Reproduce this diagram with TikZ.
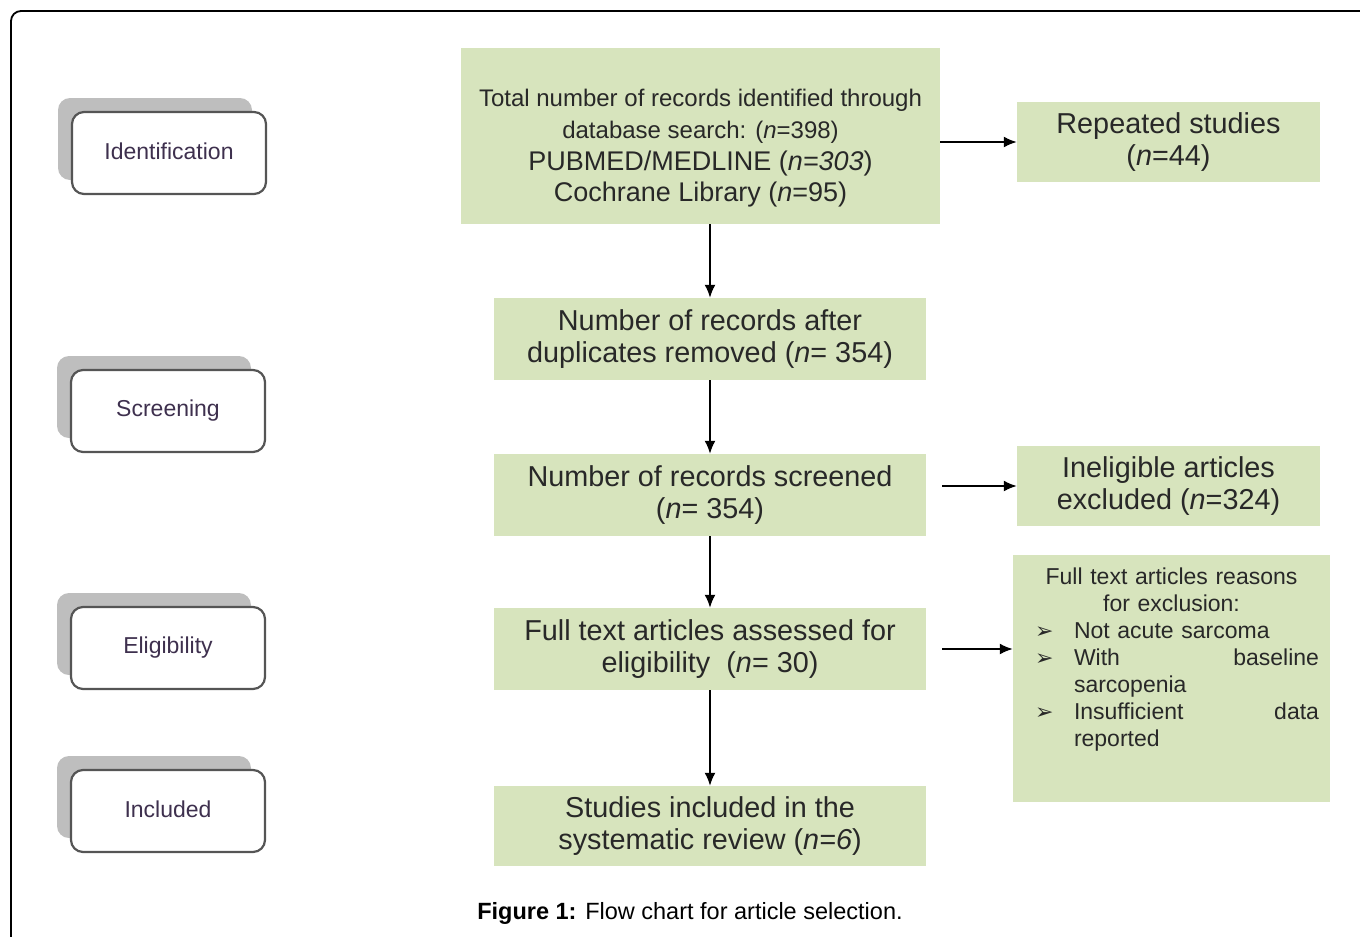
\documentclass[tikz,border=0pt]{standalone}
\usepackage{fontspec}
\setmainfont{Liberation Sans}
\newfontfamily\dingfont{DejaVu Sans}
\usetikzlibrary{arrows.meta,shadows}
\definecolor{boxgreen}{RGB}{215,228,189}
\definecolor{boxtext}{RGB}{40,40,40}
\definecolor{stagetext}{RGB}{62,48,78}
\definecolor{stageedge}{RGB}{85,85,85}
\definecolor{stageshade}{RGB}{190,190,190}
\newcommand{\arrowbullet}{\makebox[39pt][l]{\dingfont\fontsize{22}{27}\selectfont ➢}}
\tikzset{
  flowbox/.style={fill=boxgreen,text=boxtext,align=center,inner sep=0pt,
    minimum width=432pt,minimum height=82pt,font=\fontsize{28.8}{32}\selectfont},
  sidebox/.style={flowbox,minimum width=303pt,minimum height=80pt},
  stagebox/.style={draw=stageedge,line width=2.2pt,fill=white,rounded corners=12pt,
    minimum width=194pt,minimum height=82pt,text=stagetext,font=\fontsize{23}{27}\selectfont,
    copy shadow={shadow xshift=-14pt,shadow yshift=14pt,fill=stageshade,draw=none}},
  flowarrow/.style={line width=1.8pt,->,>={Latex[length=13pt,width=11pt]}}
}
\begin{document}
\begin{tikzpicture}[x=1pt,y=-1pt]
      \useasboundingbox (0,0) rectangle (1360,937);
      \draw[line width=1.8pt,rounded corners=10pt] (1370,11) -- (11,11) -- (11,950);
      \node[stagebox] (identification) at (169,153) {\raisebox{4pt}{Identification}};
      \node[stagebox] (screening) at (168,411) {\raisebox{4pt}{Screening}};
      \node[stagebox] (eligibility) at (168,648) {\raisebox{4pt}{Eligibility}};
      \node[stagebox] (included) at (168,811) {\raisebox{4pt}{Included}};
      \node[flowbox,minimum width=479pt,minimum height=176pt,font=\fontsize{24}{31.7}\selectfont] (ident) at (700.5,136)
        {\rule{0pt}{42pt}Total number of records identified through\\ database search: (\textit{n}=398)\\
        {\fontsize{27}{31.7}\selectfont PUBMED/MEDLINE (\textit{n=303})}\\
        {\fontsize{27}{31.7}\selectfont Cochrane Library (\textit{n}=95)}};
      \node[sidebox] (rep) at (1168.5,142) {Repeated studies\\ (\textit{n}=44)};
      \node[flowbox] (dup) at (710,339) {Number of records after\\ duplicates removed (\textit{n}= 354)};
      \node[flowbox] (screen) at (710,495) {Number of records screened\\ (\textit{n}= 354)};
      \node[sidebox] (inel) at (1168.5,486) {Ineligible articles\\ excluded (\textit{n}=324)};
      \node[flowbox] (elig) at (710,649) {Full text articles assessed for\\ eligibility~ (\textit{n}= 30)};
      \node[flowbox,minimum width=317pt,minimum height=247pt,text width=295pt,text depth=205pt,
        font=\fontsize{23}{27}\selectfont] (reasons) at (1171.5,678.5)
        {Full text articles reasons\\ for exclusion:\\
        \makebox[295pt][l]{\hspace{11pt}\arrowbullet Not acute sarcoma}\\
        \makebox[295pt][l]{\hspace{11pt}\arrowbullet\makebox[245pt][s]{With\hfill baseline}}\\
        \makebox[295pt][l]{\hspace{50pt}sarcopenia}\\
        \makebox[295pt][l]{\hspace{11pt}\arrowbullet\makebox[245pt][s]{Insufficient\hfill data}}\\
        \makebox[295pt][l]{\hspace{50pt}reported}};
      \node[flowbox,minimum height=80pt] (incl) at (710,826) {Studies included in the\\ systematic review (\textit{n=6})};
      \node[font=\fontsize{23.5}{27}\selectfont] (caption) at (690,913) {\textbf{Figure 1:} Flow chart for article selection.};
      \draw[flowarrow] (ident.south -| dup.north) -- (dup.north);
      \draw[flowarrow] (dup.south) -- (screen.north);
      \draw[flowarrow] (screen.south) -- (elig.north);
      \draw[flowarrow] (elig.south) -- (incl.north);
      \draw[flowarrow] (ident.east |- rep.west) -- (rep.west);
      \draw[flowarrow,shorten <=16pt] (screen.east |- inel.west) -- (inel.west);
      \draw[flowarrow,shorten <=16pt] (elig.east) -- (elig.east -| reasons.west);
\end{tikzpicture}
\end{document}
